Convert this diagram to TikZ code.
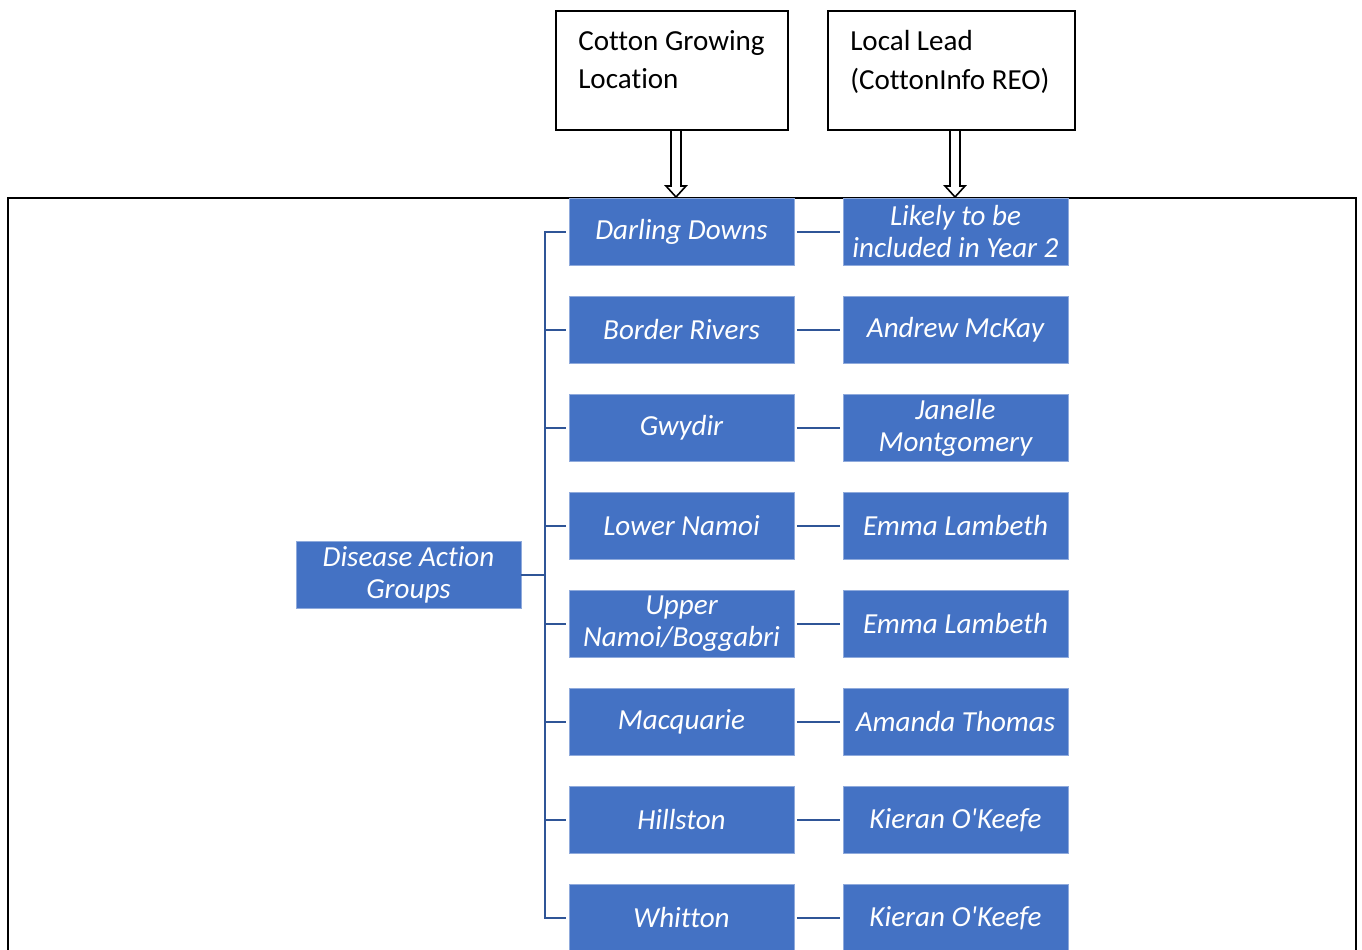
\documentclass[tikz,border=0pt]{standalone}
\usepackage{fontspec}
\defaultfontfeatures[\rmfamily]{Ligatures=NoCommon}
\setmainfont{Carlito}
\usetikzlibrary{calc}
\definecolor{boxblue}{HTML}{4472C4}
\definecolor{linkblue}{HTML}{2F5597}
\tikzset{
  bluebox/.style={fill=boxblue, draw=boxblue!60!white, line width=0.4pt, minimum width=225*0.75pt, minimum height=67*0.75pt, inner sep=2pt, align=center, text=white, font=\fontsize{21.8}{24}\selectfont\itshape},
  topbox/.style={draw=black, line width=1.5pt, minimum height=119*0.75pt, inner sep=0pt},
  toptext/.style={anchor=north west, align=left, inner sep=0pt, font=\fontsize{21.8}{29}\selectfont},
  link/.style={draw=linkblue, line width=1.6pt},
  hollowarrow/.style={draw=black, fill=white, line width=1.2pt, line join=miter}
}
\begin{document}
\begin{tikzpicture}[x=0.75pt,y=-0.75pt]
\useasboundingbox (0,0) rectangle (1362,949);
\clip (0,0) rectangle (1362,949);
\fill[white] (0,0) rectangle (1362,949);
% outer frame
\draw[line width=1.6pt] (8,970) -- (8,198) -- (1356,198) -- (1356,970);
% top boxes
\node[topbox, minimum width=232*0.75pt] (loc) at (672,70.5) {};
\node[toptext] (loctext) at (578,30) {Cotton Growing\\Location};
\node[topbox, minimum width=247*0.75pt] (lead) at (951.5,70.5) {};
\node[toptext] (leadtext) at (850,30) {Local Lead\\(CottonInfo REO)};
% hollow arrows
\foreach \xx in {676,955}{
  \draw[hollowarrow] (\xx-5,131) -- (\xx-5,186) -- (\xx-10,186) -- (\xx,197) -- (\xx+10,186) -- (\xx+5,186) -- (\xx+5,131);
}
% disease action groups
\node[bluebox] (dag) at (408.5,575) {Disease Action\\Groups};
% rows
\node[bluebox] (a1) at (681.5,232) {Darling Downs};
\node[bluebox] (b1) at (955.5,232) {Likely to be\\included in Year 2};
\node[bluebox] (a2) at (681.5,330) {Border Rivers};
\node[bluebox] (b2) at (955.5,330) {Andrew McKay};
\node[bluebox] (a3) at (681.5,428) {Gwydir};
\node[bluebox] (b3) at (955.5,428) {Janelle\\Montgomery};
\node[bluebox] (a4) at (681.5,526) {Lower Namoi};
\node[bluebox] (b4) at (955.5,526) {Emma Lambeth};
\node[bluebox] (a5) at (681.5,624) {Upper\\Namoi/Boggabri};
\node[bluebox] (b5) at (955.5,624) {Emma Lambeth};
\node[bluebox] (a6) at (681.5,722) {Macquarie};
\node[bluebox] (b6) at (955.5,722) {Amanda Thomas};
\node[bluebox] (a7) at (681.5,820) {Hillston};
\node[bluebox] (b7) at (955.5,820) {Kieran O\textquotesingle Keefe};
\node[bluebox] (a8) at (681.5,918) {Whitton};
\node[bluebox] (b8) at (955.5,918) {Kieran O\textquotesingle Keefe};
% connectors
\coordinate (spine) at ($(dag.east)+(24,0)$);
\foreach \r in {a1,a2,a3,a4,a5,a6,a7,a8}{
  \draw[link, shorten >=2pt] (dag.east) -- (spine) |- (\r.west);
}
\foreach \i in {1,...,8}{
  \draw[link, shorten <=2pt, shorten >=2pt] (a\i.east) -- (b\i.west);
}
\end{tikzpicture}
\end{document}
